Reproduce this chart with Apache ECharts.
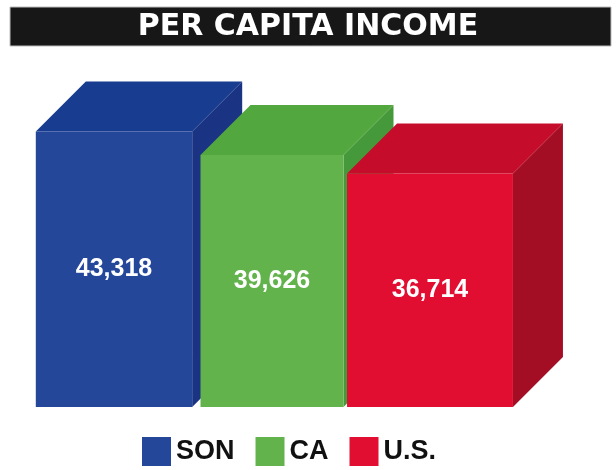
<!DOCTYPE html>
<html>
<head>
<meta charset="utf-8">
<script src="https://cdn.jsdelivr.net/npm/echarts@6/dist/echarts.min.js"></script>
<style>
  html, body { margin: 0; padding: 0; background: #fff; }
  #chart { width: 616px; height: 470px; }
</style>
</head>
<body>
<div id="chart"></div>
<script>
var categories = ['SON', 'CA', 'U.S.'];
var values = [43318, 39626, 36714];

// front / top / side colours of each box
var frontColors = ['#24479a', '#63b34d', '#e10e32'];
var topColors = ['#183c8f', '#52a83f', '#c50c2b'];
var sideColors = ['#1a3483', '#46993a', '#a30e24'];
// boxes are not all the same width in the original
var widthScale = [0.99, 0.905, 1.05];
var depth = 50;

var chart = echarts.init(document.getElementById('chart'));

function renderBox(params, api) {
    var idx = api.value(0);
    var top = api.coord([idx, api.value(1)]);
    var base = api.coord([idx, 0]);
    var w = api.size([1, 0])[0] * widthScale[idx];
    var x0 = top[0] - w / 2, x1 = top[0] + w / 2;
    var y0 = top[1], y1 = base[1];
    return {
        type: 'group',
        children: [
            {
                type: 'polygon',
                shape: { points: [[x1, y0], [x1 + depth, y0 - depth], [x1 + depth, y1 - depth], [x1, y1]] },
                style: { fill: sideColors[idx] }
            },
            {
                type: 'polygon',
                shape: { points: [[x0, y0], [x1, y0], [x1 + depth, y0 - depth], [x0 + depth, y0 - depth]] },
                style: { fill: topColors[idx] }
            },
            {
                type: 'rect',
                shape: { x: x0, y: y0, width: w, height: y1 - y0 },
                style: { fill: frontColors[idx] }
            },
            {
                type: 'text',
                x: (x0 + x1) / 2,
                y: (y0 + y1) / 2,
                style: {
                    text: api.value(1).toLocaleString('en-US'),
                    fill: '#fff',
                    font: 'bold 25px "Liberation Sans", Arial, sans-serif',
                    align: 'center',
                    verticalAlign: 'middle'
                }
            }
        ]
    };
}

var series = [];
for (var i = 0; i < categories.length; i++) {
    series.push({
        name: categories[i],
        type: 'custom',
        renderItem: renderBox,
        itemStyle: { color: frontColors[i] },
        data: [[i, values[i]]]
    });
}

var option = {
    animation: false,
    title: {
        text: 'PER CAPITA INCOME',
        left: 'center',
        top: 7,
        padding: 0,
        textStyle: {
            color: '#fff',
            fontSize: 30,
            fontWeight: 'bold',
            fontFamily: '"DejaVu Sans", sans-serif',
            lineHeight: 40
        }
    },
    graphic: [{
        type: 'rect',
        z: -1,
        shape: { x: 10, y: 7, width: 601, height: 39 },
        style: { fill: '#171717', stroke: '#bdbdbd', lineWidth: 1 }
    }],
    legend: {
        data: categories,
        left: 142,
        top: 437,
        padding: 0,
        icon: 'rect',
        itemWidth: 29,
        itemHeight: 29,
        itemGap: 21,
        textStyle: {
            color: '#111',
            fontSize: 27,
            fontWeight: 'bold',
            fontFamily: '"Liberation Sans", Arial, sans-serif'
        }
    },
    grid: { left: 35, right: 107, top: 89, bottom: 63 },
    xAxis: { type: 'category', data: categories, show: false },
    yAxis: { type: 'value', min: 0, max: 50000, show: false },
    series: series
};

chart.setOption(option);
</script>
</body>
</html>
